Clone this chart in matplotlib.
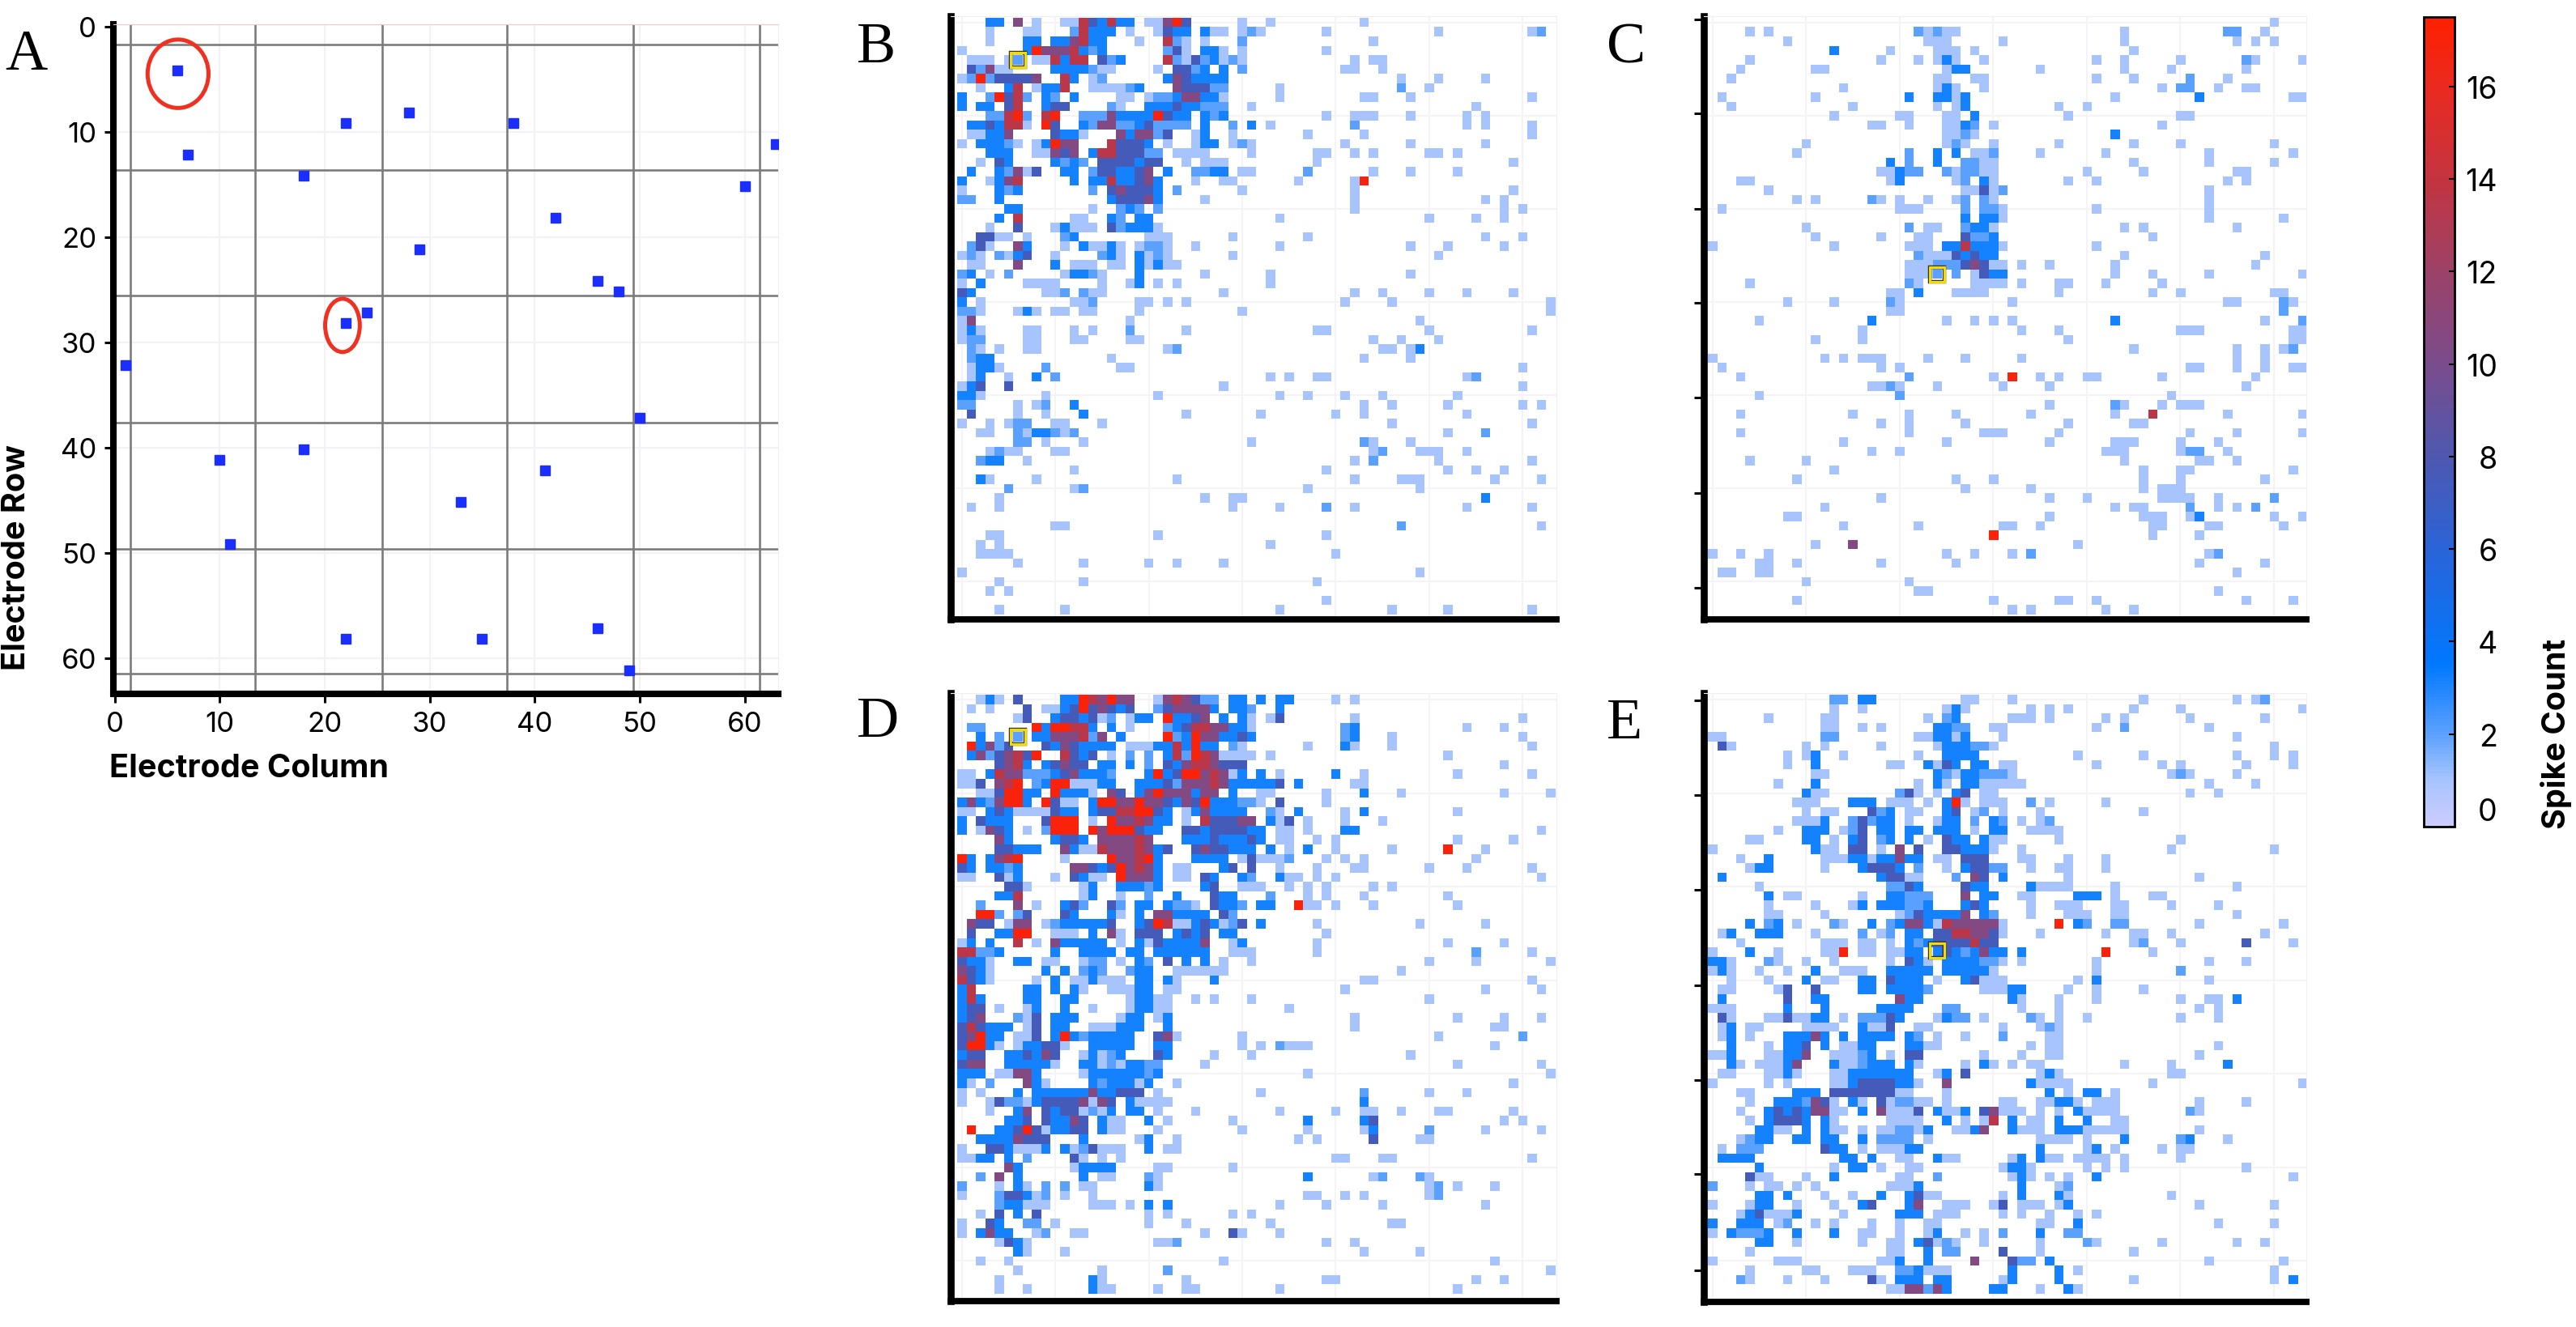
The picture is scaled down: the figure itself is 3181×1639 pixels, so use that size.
import re
import numpy as np
import matplotlib
matplotlib.use('Agg')
import matplotlib.pyplot as plt
from matplotlib.colors import LinearSegmentedColormap
from matplotlib.patches import Ellipse

W, H = 3181, 1640
plt.rcParams['font.family'] = ['Inter', 'DejaVu Sans']

# panel A, active electrodes (column, row)
active_cols = [6, 7, 22, 28, 38, 63, 18, 60, 42, 29, 46, 48, 24, 22, 1, 50, 18, 10, 41, 33, 11, 22, 35, 46, 49]
active_rows = [4, 12, 9, 8, 9, 11, 14, 15, 18, 21, 24, 25, 27, 28, 32, 37, 40, 41, 42, 45, 49, 58, 58, 57, 61]
grid_lines_x = [1.47, 13.4, 25.45, 37.4, 49.4, 61.4]
grid_lines_y = [1.72, 13.65, 25.6, 37.6, 49.6, 61.5]

# spike counts read by eye, one string per row: "start column + one letter per cell"
levels = {'a': 1, 'b': 2, 'c': 3.2, 'd': 7.5, 'e': 10.5, 'f': 13.5, 'g': 17}

rows_b = [
    "3cc 6e 8a 11aafdcfcc 20aaegd 30a 33a 43a", "3a 7aa 12bfccc 18a 21a 22dcc 26c 27aa 30a 31ba 39a 51a 61ab",
    "3a 7cc 10cc 12efcc 19a 22fb 24a 26a 30b 44a", "0a 7c 8g 9eee 12f 13cbc 22b 23d 24a 26cc 28a 30a 39a",
    "1aaa 5ab 8aa 10fcff 15dbc 22fbadbcab 30a 42a 44aa", "1dbeaa 10cccc 14ba 16a 21a 23ddbc 28c 30b 41aa 45a",
    "0abgb 4dddde 11f 12c 14ab 22cedcccc 47a 51a 56a", "2a 5cf 8acc 11f 14aaaa 18bc 23edddbb 34a 47b 50a",
    "0c 3bgdfb 9cb 12c 17aa 20abbceecca 34a 43aa 48a 61a", "0c 2cc 5df 9cdd 16ba 20cccdccbbb 31a 55a",
    "3bbfgb 9fg 13bbbecccc 21gdcc 26cbc 39a 42aaa 48a 54a 56a", "1ccdc 5ff 7a 9gd 13cbee 17bbcd 21bbbb 26c 29b 31c 33a 42b 54a 56a 61a",
    "1aacce 10dcca 17eceeb 22d 25ac 29a 37a 43a 61a", "0a 2ccc 5ba 8acgee 16fdddc 22a 25acc 29aba 41a 48a 56a",
    "3ccc 8aa 10ede 14cffdddbb 23aaaa 31a 38aa 42a 44a 50aa 53a", "2a 4dc 10cbcb 15ddddcdd 24a 26aaa 38a 59a",
    "1c 4cbead 11cc 14bddccde 22c 25bbcc 30aa 37b 44a 48a 53a", "0c 3acef 12c 14ccfccdec 25a 28aa 36a 42ag",
    "0a 4cbc 14b 16dedddc 23b 30a 42a 59a", "0bb 4c 16cdddec 26a 42a 56a 58a",
    "5cc 14a 17bcb 21b 42a 58a 60a", "4c 6f 12aa 16cb 19cc 34a 50a 55a 58a",
    "3a 6d 10ac 12aaa 16db 18ccc 21a", "2dd 4aa 7a 11bc 20aaa 29a 37a 56a 60a",
    "1bda 6ec 11a 13caaca 19abba 25a 34a 48a 52a 58a", "0aba 4bacd 10a 15bca 19caba 29a 51a",
    "1aa 6e 10c 12aaa 16aa 19cac 22aa", "0bc 3a 5b 11accba 19c 26a 33a 48a",
    "0a 2c 7aaaa 15a 18ac 21a 23a 33a", "0dc 9aab 13baa 28a 42a 45a 50a 54a 59a",
    "0c 2a 12aab 19aa 22a 24a 41a 46a 63a", "0bba 6aca 10aa 13aa 19a 30a 63a",
    "0ae 18a 49a", "0aca 7aa 12a 14a 18b 24a 38aa 50a 61a",
    "0abb 7aa 12aa 18aa 44a 47a 51a", "1ba 4a 7aa 22ab 45aa 48ac",
    "1bcc 16a 43a 48a", "1acca 9b 17aa 60a",
    "1ac 5a 8c 10b 33a 35a 38aa 54ab", "0acd 5d 28a 60a",
    "0cca 9a 21a 34a 37a 41a 45a 53a", "0bb 6a 8ab 12c 43a 46a 52a 60a 62a",
    "1d 6a 9a 13c 24a 32a 40a 43a 54a", "0a 3a 5abb 10aa 15a 46a 61a",
    "2aa 6baccbab 52a 56b", "6bb 9a 13a 31a 43ba 48a",
    "3abaa 10aa 44ab 49aaa 54a", "2bcc 7a 42a 44b 51a 61a",
    "12a 39a 52a 55a 58a", "2ca 8a 23a 42a 47aaa 57a 62a",
    "5b 12ab 37a 49a", "4a 26a 29aa 56c",
    "1a 4a 29a 34a 39b 42a 54a 61a", "",
    "10aa 47b 62a", "3aa 21a 39a",
    "2a 4a 33a", "2aaaa 40a",
    "6a 13a 20a 23a 28a", "0a 49a",
    "4a 13a 38a", "3a 5a",
    "39a", "4a 11a 34a 46a 52a 61a",
]

rows_c = [
    "60a", "4a 6a 22babaa 44a 55bb 59a", "8a 23aaa 31a 44a 56a 58a 60a", "13c 19a 24aaa 28a 45a",
    "4a 18a 22a 24aca 29a 41a 44a 50a 57ba 63a", "3a 11aa 25acc 35a 44a 49a 57a", "2a 24aa 28aa 41a 45a 51b 55a",
    "14a 24aca 29a 48a 50bb 54a 57aa", "1a 11a 21c 24cca 27c 43a 52c 62aa", "2a 15a 24a 26ac 37a 40a",
    "13a 20aa 25aa 28c 38a 50aa", "17aa 21a 25aa 27cb 30a 48a", "25aaba 43c", "10a 25aba 30a 37a 45a 50a 60a",
    "9a 21b 24c 26c 28aab 35a 42a 53a 62a", "19c 21b 24c 27bbaa 45a 53a 60a", "18aacbb 25ba 27bbaa 40a 46a 56aa",
    "3aa 19ac 26ab 29ca 38a 41a 55a 57a", "6a 27aadab 53a", "9a 11a 17ba 20a 23a 26ab 29ba 53a",
    "1a 20aaa 27b 29bba 41a 53a", "27c 29cca 53a 61a", "10a 21b 23aa 27bcca 44a 46a 56a", "11a 18a 22aa 27dbbc 47a",
    "0a 13a 21aaa 25ccfccca 41a", "22baaa 26dcdcc 44a 59a", "21aaabbb 27ded 30aa 33a 36a 43a 58a",
    "21aaab 26b 28adcc 43a 47a 53a 63a", "4a 21ba 28aaaa 33a 37aa 42a 48a", "19aa 22c 26aaaa 37a 47a 50a 60aa",
    "8a 13a 19ba 32a 55aa 61ba", "19aa 61b", "5a 17c 25a 28a 30a 32a 43c 59a 63b", "16a 33a 37a 50aaa 62aa",
    "11a 16a 38a 62aa", "45a 56a 59a 61ab", "0a 12a 14a 16aaa 23a 27a 33a 56a 59a", "1a 18a 20a 51aa 56a 59a 62aa",
    "3a 21b 30a 32g 35a 37a 40aa 48a 58a", "17aaba 24a 31a 36a 57a", "5a 20b 49a", "36a 43ba 48a 50aaa",
    "3a 15a 21a 26a 34a 43a 47f 55a 63a", "18a 21a 27a 38a 45aa", "3a 21a 29aaa 37a 51a 56a 63a",
    "14a 25a 36a 43aaa 50a 54a", "17a 20a 42aaa 50abb 55a", "4a 10a 44a 52aa 56a", "13a 46a 50aa 62a",
    "9a 26a 30a 46a 50a 59a", "27a 34a 46a 48aaa", "18a 36a 40a 48aaaa 54a 60b", "12a 43a 45aa 51b 54a 56a 58b",
    "8aa 36a 46aaa 51ac 60a 63a", "14a 22a 31aa 35a 47aa 53aa 61a", "30g 47a 52a", "11a 15e 39a",
    "0a 3a 6a 25a 28a 32a 34b 53ab", "5aa 9a 18a 26a 52a 59a", "1aa 5aa 56a", "10a 21a", "22aa 54a",
    "9a 30a 37aa 41a 57a 62a", "32a 34a 42a 45a",
]

rows_d = [
    "2aca 6d 11ccgfegee 21aefedbb 29cc 32c 34cc 40a 42a", "1a 3a 7d 9aacdgdedcd 21bdeeeec 29ccb 34c",
    "6ad 10cddcda 16b 18acc 22gccde 28c 30ca 33ad 42a 60a", "1bb 8gc 10ggffc 16c 18a 22bcdffee 29cca 41bc 54a 58a",
    "2c 4b 6b 8cceeefbe 17c 22gbcgeec 29cdc 41bc 46a 60a", "1gcebd 9dcedcccc 18aaacc 23fcgcc 29ba 37a 41ca 46a 61a",
    "1cebdefdg 11fdcd 16a 18b 20b 22cfbgfe 28aaaa 33a 52a", "4defc 9cdedd 15cc 18c 20b 22dceffeddd 58a",
    "0aa 3cfeebbb 10cdecccb 20cgcdggefe 29ac 32c 34a 40c 43a 53a 61a", "0aa 2d 4efg 8bcggaaacc 19cccdbeeefecccccd 36c 42aa",
    "2aadggcc 10gccca 16ed 19cegeeecee 29c 32aa 39a 43c 47a 58a 63a", "0cecbeggc 9gdaa 14cggeegeedcedgcccbba 34d 39a",
    "0aa 3cdcaaaa 10dcc 14c 15ddffggdc 24a 25cecccc 33ba 36c 41a 43c 53a", "0c 2dccc 9dggg 14a 16geefecc 24a 26fdddee 33cad 37a 41a 45a",
    "0c 2a 3edc 7a 9bggg 14gegggdcc 24ddcddddcc 34aa 37a 41cc 62a", "4ec 10cddc 15eeeefe 24cccdcccdc 34aa 38a 40a 53a 59a",
    "4ddccc 11ecaa 15feeefecd 25deddccc 33c 35a 37c 40a 46a 52g 56a", "0gc 3cefg 11a 16geefgc 25cccc 30ad 32aaab 39a 41a 43a 55a",
    "0dc 3ccbc 12eedcdgefec 23aa 28cd 31d 34a 38a 42aa 50a 54a 61a", "0aa 4dac 10a 12dcaa 17geeec 23aa 26dc 30cb 34caa 38a 40a 62a",
    "5dda 13ac 17cccbc 26c 27d 30aaa 35a 37a 39a 44a 46a", "4ccf 13ac 17a 20b 23c 27dcc 33b 37a 39a 43a 52a",
    "2b 6e 8a 11cdb 16db 19cc 22cbba 27dccb 32cc 36gaa 40a 44a 53a", "2gg 4b 6bd 11dc 16ca 19c 21eecccc 28db",
    "1edd 5aee 9abcccccd 19cdgfaacdcabd 32c 38a 49a 56a", "1d 4ccgg 10aaa 14c 16ea 19ddd 23cdcd 28cc 39a",
    "0ac 3c 6f 8a 10eccccc 17a 19cadcccce 29ac 38a 52a 58a", "0ffbbc 10c 13cccc 18cc 21cccccc 29aaa 38a 55b 61a",
    "0dcca 6cc 9aa 13abb 17a 19cb 22d 24c 26c 28a 31a 50a 55a 63a", "0edca 9c 11c 13bcb 18bcc 23aaaaa 28a 47a",
    "0fdca 8a 10c 12aacaaa 19cc 22ca 27c 43aa 61a", "0cf 7cc 10c 12ca 16aaa 19cc 22aa 41a 56a 62a",
    "0cfc 7cc 11cc 18accaa 25a 27a 31a 50a", "0cdd 4a 7ac 11c 14a 18accaa 35a",
    "0cde 6bad 10ccc 17acc 21ac 42a 53a 58a 62a", "0dfdccc 7ad 10cc 14aaa 17ccc 22c 42a 57aa",
    "0degcc 6aad 10cgcb 14ccccc 21de 23a 30a 51a 60b", "0dggca 6accdda 14ccccc 21cc 30a 32a 34baaa 57a",
    "0cdd 5ccdced 13acabc 21dc 27a 31a 48a", "0dee 5ccccca 13ccabaccbb 26a 53a 62a",
    "0ccc 4aaeec 13accccccbc 37a 63a", "0ca 3b 7eca 14cbcccac 23a 59a",
    "0a 2a 6c 8cccccc 14eccddd 21a 32a 43b 50a 54a", "0a 3adbba 8cdddde 14aed 18caaaa 43c",
    "3a 6ce 9dcddabac 18cc 21a 25a 34a 40a 43aa 47a 51aa 59a", "5ccd 9dcced 15caa 20c 22a 29a 37c 43cd 58a 60a",
    "1g 4ccdgd 9accdd 15caa 21a 30a 37a 43ac 50b 56a 62a", "2cccc 6eddd 13c 19ac 23a 36a 38a 44d 49aa",
    "0a 3ddcaaa 9c 11cabdaaa 20c 22aa", "0aacc 5c 7b 12da 15a 17a 40aa 45aa 61a",
    "5ec 12acccc 21aa 29a", "2b 4e 6c 13c 15aa 20ba 37c 44ab 49ba",
    "0b 4a 6ca 9b 11b 13aa 20ca 50ab 53a 57a", "0a 4bddcab 11a 14a 37aa 41a 43a 50ab",
    "4bccaaa 14aaa 18a 20c 22c 34a 39a 45a 56a", "2a 4d 6c 8d 20a 22a 29a 31a",
    "0a 3dc 7bb 10a 20a 24a 33a 46aa", "0a 2cecc 8ab 12aa 26a 29da 34a",
    "4adca 21aab 39a 42a", "6ca 11a 43a 49a",
    "2a 5a 28a 57a", "6a 15a 22b 63a",
    "4a 14ca 24a 39aa 55a 58a", "4a 7a 14caa 21a 24aa 34a 53a",
]

rows_e = [
    "13bb 16cc 27aa 32a 46a 56a 58ab", "13a 16a 25aca 34a 36a 38a 45a 50a 63a",
    "6a 12aa 23a 25bc 32aaa 36a 42a 44a 51a 59a", "12aa 16a 18a 24ccbb 30aa 41a 44b 53a",
    "0aa 12bb 22aaccac 31a 56a", "1da 10a 12a 18a 24accc 28bba 60a",
    "8a 10ac 14a 22a 25ccc 28c 39a 46a 56a 60a 62a", "8a 11c 19aa 23cadc 28cc 31aa 41a 48a 50a 57a 62a",
    "11aa 24cba 27cc 29bbb 32a 49aba 56a", "7a 11c 22a 24ca 27cc 29aaaaa 53a 58a",
    "10caa 20bda 24a 26cd 29aa 51a 54a", "9aaa 15ccc 19aaa 23a 25cga 29aaa 34b 36a 42a",
    "10a 12aa 17dbc 21aa 25cd 28ab 31a 35a 46a", "9aaac 15bdbcc 21a 24acc 28b 30cb 33a 35ab",
    "7a 10ccc 14abd 18cc 21cc 24ccc 28a 30cc 34aaaa", "4aa 10cc 13a 15cd 18bc 21c 23a 25dcc 29caa 37a 50a",
    "0a 11caa 15dd 18a 20e 22d 25ddccc 30a 33a 49a 60a", "3a 6c 12aaa 15cca 18cc 20ecc 24aa 27ddd 33aa 38a 42a",
    "4acc 12a 16cdddc 22b 25a 27cdd 30bb 34a 37aa 42a", "1c 18cddaa 26b 28ed 31c 38a 52a",
    "5a 19bbdc 27dcc 34caaaa 43a 56a", "6c 8aa 16a 19ccbbb 27e 29cc 33aa 39ccc 43a 47aa",
    "6a 11a 15ac 18ccc 21bbc 27cdc 34a 37aaa 43aa 49a 54a", "6aa 12a 20abdcccc 27e 29cb 34a 38aaa 43aa 56a",
    "4c 6bc 9a 13ba 17c 19bceecafeeeeea 37g 39cb 43bb 52a 61a", "1ac 5ccc 11a 16b 18ab 21cc 24ddffeeda 35a 42a 45aa 49a 59a",
    "3a 12aaa 16aa 19a 21cbcdddd 28fdd 45ab 50a 57d 62a", "0a 4c 7a 12aag 16aa 19aacc 24cdcbc 29ecc 33c 42g 47a",
    "0cca 6ba 10a 13a 19a 21dca 25cccc 29bba 33a 41a 53a 57a", "0aca 5a 8a 11c 14aaa 19ccccc 25cccc 29ca 41a 50b",
    "2a 6a 10c 12aa 16cc 19dccc 24a 27cd 29aaa 39a 41c 53a", "1aa 7ad 11d 16cc 19ccccb 29aa 31a 32c 33c 38a 41a 46a",
    "1c 8d 11cc 20ecc 32ca 37a 41a 50a 53aa 56c", "0aaa 8c 12c 18cccc 25bb 33a 37a 52a 54a",
    "1da 6aad 9aacc 14a 16bbbdc 24acbb 29a 34ba 37a 40a 50a 54a", "1ac 4aa 10aaaa 16caad 22aa 31a 35ab 37a",
    "1ac 4a 8ccce 12c 14c 16cccc 21cb 24a 27a 31b 36aa", "2c 6a 8ccd 12c 14aacc 21cc 23aa 34a 36aa 54a",
    "0aac 6aacce 13aaab 17c 19a 21dd 29a 33a 36aa 52a", "2ca 5aaa 8ce 13caab 17ccc 21ca 27a 29ca 32a 34aa 44a 49a 55c",
    "1aa 6aac 9a 13aa 15ccccccc 24ac 27d 35aca 49aa", "0a 6a 8a 13aacdddd 20cca 25e 34caaaa 47a 63a",
    "3aa 9ccc 13dddd 17ddd 20aa 25a 36c 38a 40cc 43a", "4a 7cccbeda 15ca 18dabbaa 25a 31aa 35aacca 41aaa 52a 57a",
    "3a 6cdcdceeaa 16c 18eaaa 22d 24caac 29de 31aaa 35a 37a 39caaaa 51ba", "4a 6cdddc 12c 13a 19aaaa 25c 27a 29af 32c 34aa 37c 40c 43aa",
    "5ccaa 10c 12caa 16a 18aabbac 26aace 32caaa 37ccc 40aaaaa 52a", "3abcc 9cc 12cc 16c 18bbbb 23a 35aaaa 40a 44c 50bc 55a",
    "1a 3bbb 12dcc 16a 18aaa 21cc 35c 40ac 43a 48a 50aa", "1cccc 14cc 17c 20aa 24caa 32ac 35caa 39aaaa 44a 50a",
    "5c 13a 15cc 18a 21aa 31acca 40a 42a 44a 57a", "4daa 10a 13c 20aa 24b 32aca 36a 38a 41c 62a",
    "0b 4a 6aa 9a 11a 19aaac 33c 37ab", "5cc 8c 12a 15a 18c 21cdaa 31a 33c 37ca 49a",
    "0a 4acc 9a 13a 16cd 21ce 25aaa 30ad 33aaa 37ac 52a 60a", "3acdaaac 14a 20ccc 24aaa 31a 33a 36a 39a 41a",
    "0c 3ccc 7ab 11a 13a 17a 20a 23aa 35aa 39c 54a 60a", "0a 2cbbbc 9c 13c 16aa 20a 23ac 27a 29a 31b 35c 38bb",
    "5cc 9a 16a 19aa 22cdaba 29a 35a 40ba 48a 56a 59a", "4a 19aa 23c 25bb 31d 35a 45a",
    "0a 7aaa 18aac 23c 28e 32dbb 36c 53a 61a", "4a 10aa 15aaa 20bbc 23aaa 32c 37c 39a 60a",
    "3ba 8a 12a 17da 20ccc 24cc 31ac 37c 45a 60a 62c", "19aa 21eebec 30cc 35a 38ca",
]

# stimulated electrode in each panel (column, row)
stim_b = (6, 4)
stim_c = (24, 27)
stim_d = (6, 4)
stim_e = (24, 26.8)

cbar_ticks = [0, 2, 4, 6, 8, 10, 12, 14, 16]
cmap_vals = [0, 1, 2, 3.5, 6, 8, 10, 12, 14, 16, 17.5]
cmap_cols = ['#ccccff', '#a6c4ff', '#5aa0ff', '#0078ff', '#2a64d8', '#4f58b0', '#7a4c8c', '#9c4268',
             '#c43440', '#ea2a20', '#ff2000']
cmap = LinearSegmentedColormap.from_list('spike', [(v / 17.5, c) for v, c in zip(cmap_vals, cmap_cols)])
cmap.set_bad((1, 1, 1, 0))


def to_matrix(rows):
    m = np.full((64, 64), np.nan)
    for r, line in enumerate(rows):
        for start, cells in re.findall(r'(\d+)([a-g]+)', line):
            for i, ch in enumerate(cells):
                col = int(start) + i
                if col < 64:
                    m[r, col] = levels[ch]
    return m


def px_axes(fig, left, top, right, bottom):
    return fig.add_axes([left / W, 1 - bottom / H, (right - left) / W, (bottom - top) / H])


def heat_panel(fig, rows, stim, box, cell_x0, cell_y0, pitch_x, pitch_y, yticks=None):
    left, top, right, bottom = box
    ax = px_axes(fig, *box)
    # faint guide lines every 10 cells
    for k in range(0, 64, 10):
        ax.axvline(k, color='#f5f3f8', lw=1.5, zorder=0)
        ax.axhline(k, color='#f5f3f8', lw=1.5, zorder=0)
    im = ax.imshow(to_matrix(rows), cmap=cmap, vmin=0, vmax=17.5, aspect='auto',
                   interpolation='nearest', zorder=1)
    ax.set_xlim(-0.5 + (left - cell_x0) / pitch_x, -0.5 + (right - cell_x0) / pitch_x)
    ax.set_ylim(-0.5 + (bottom - cell_y0) / pitch_y, -0.5 + (top - cell_y0) / pitch_y)
    ax.plot([stim[0]], [stim[1]], 's', ms=13.5, mfc='none', mec='#33301a', mew=3.2, zorder=3)
    ax.plot([stim[0]], [stim[1]], 's', ms=13.5, mfc='none', mec='#f0dc00', mew=2.2, zorder=4)
    ax.spines['top'].set_color('#f0eef2')
    ax.spines['right'].set_color('#f0eef2')
    ax.spines['left'].set_linewidth(6.2)
    ax.spines['bottom'].set_linewidth(5.6)
    ax.set_xticks([])
    if yticks is None:
        ax.set_yticks([])
    else:
        ax.set_yticks(yticks)
        ax.set_yticklabels([])
        ax.tick_params(axis='y', length=8.5, width=2.2)
    return im


fig = plt.figure(figsize=(W / 100, H / 100), dpi=100)

# panel A
ax = px_axes(fig, 140, 31, 961, 858)
for k in range(10, 64, 10):
    ax.axvline(k, color='#f3f1f7', lw=1.5, zorder=0)
    ax.axhline(k, color='#f3f1f7', lw=1.5, zorder=0)
for g in grid_lines_x:
    ax.axvline(g, color='#7c7c7c', lw=1.9, zorder=1)
for g in grid_lines_y:
    ax.axhline(g, color='#7c7c7c', lw=1.9, zorder=1)
# the squares sit a little under their tick positions in the reference
ax.plot(active_cols, np.array(active_rows) + 0.15, 's', ms=8.4, color='#1a2eff', zorder=3, clip_on=True)
ax.add_patch(Ellipse((6.04, 4.5), 5.8, 6.5, fill=False, ec='#f03020', lw=3.6, zorder=4))
ax.add_patch(Ellipse((21.7, 28.4), 3.3, 5.06, fill=False, ec='#f03020', lw=3.6, zorder=4))
ax.set_xlim(-0.12, 63.2)
ax.set_ylim(63.4, -0.2)
ax.set_xticks(range(0, 61, 10))
ax.set_yticks(range(0, 61, 10))
ax.tick_params(length=8, width=2.2, labelsize=25, pad=7)
ax.spines['top'].set_color('#f5c8c8')
ax.spines['right'].set_color('#f0eef2')
ax.spines['left'].set_linewidth(5.8)
ax.spines['bottom'].set_linewidth(5.8)
fig.text(135 / W, 1 - 950 / H, 'Electrode Column', fontsize=28.5, fontweight='bold', va='center', ha='left')
fig.text(21 / W, 1 - 689 / H, 'Electrode Row', fontsize=28.5, fontweight='bold', va='center', ha='center',
         rotation=90)

# panels B-E
im = heat_panel(fig, rows_b, stim_b, (1174, 21, 1922, 766), 1182, 23.5, 11.54, 11.5)
heat_panel(fig, rows_c, stim_c, (2104, 21, 2848, 766), 2109, 23.5, 11.55, 11.5,
           yticks=[-0.4, 9.7, 20, 30.1, 40.2, 50.5, 60.7])
heat_panel(fig, rows_d, stim_d, (1174, 857, 1922, 1608), 1182, 859.5, 11.54, 11.55)
heat_panel(fig, rows_e, stim_e, (2104, 857, 2848, 1609), 2109, 859.5, 11.55, 11.55,
           yticks=[0.06, 10.2, 20.3, 30.5, 40.7, 50.7, 61])

# panel letters
for letter, x, y in [('A', 6, 86), ('B', 1058, 77), ('C', 1984, 78), ('D', 1058, 910), ('E', 1984, 912)]:
    fig.text(x / W, 1 - y / H, letter, fontsize=52, family='Liberation Serif', va='baseline', ha='left')

# colour bar
cax = px_axes(fig, 2993, 22, 3031, 1022)
cb = fig.colorbar(im, cax=cax)
cb.set_ticks(cbar_ticks)
cb.ax.tick_params(direction='in', length=5, width=1.5, labelsize=27, pad=38)
for t in cb.ax.get_yticklabels():
    t.set_ha('right')
cb.ax.get_yticklabels()[0].set_va('bottom')
cb.outline.set_linewidth(2)
fig.text(3157 / W, 1 - 906 / H, 'Spike Count', fontsize=28.5, fontweight='bold', rotation=90, va='center', ha='center')

fig.savefig('out.png', dpi=100)
